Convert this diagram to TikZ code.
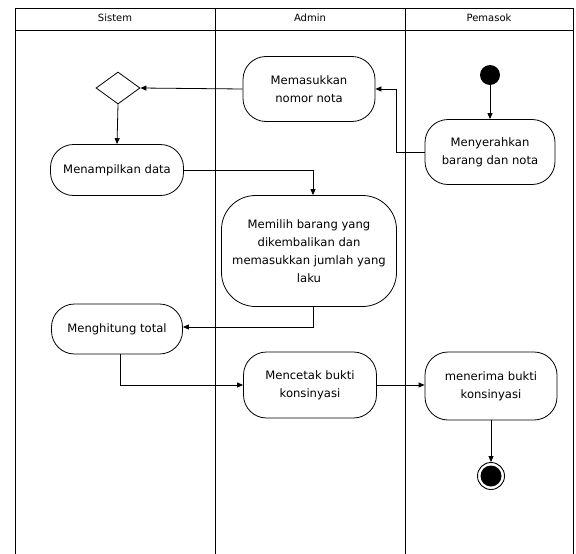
\documentclass[tikz,border=0pt]{standalone}
\usepackage{fontspec}
\setmainfont{DejaVu Sans}
\usetikzlibrary{shapes.geometric,arrows.meta}
\begin{document}
\begin{tikzpicture}[x=1pt,y=-1pt,
  lane/.style={draw=black,line width=0.9pt},
  act/.style={draw=black,line width=0.8pt,rounded corners=23pt,align=center,
    font=\fontsize{11.6}{18}\selectfont,inner sep=0pt},
  flow/.style={draw=black,line width=0.8pt,-{Triangle[length=6pt,width=5pt]}},
  lanehead/.style={font=\fontsize{10}{11}\selectfont}]
\useasboundingbox (0,0) rectangle (576,554);
% swimlanes
\draw[lane] (15,554) -- (15,8) -- (573,8) -- (573,554);
\draw[lane] (15,30) -- (573,30);
\draw[lane] (215,8) -- (215,554);
\draw[lane] (405,8) -- (405,554);
\node[lanehead] (hs) at (115,18) {Sistem};
\node[lanehead] (ha) at (310,18) {Admin};
\node[lanehead] (hp) at (489,18) {Pemasok};
% activities
\node[circle,fill=black,minimum size=20pt,inner sep=0pt] (start) at (490,75) {};
\node[act,minimum width=130pt,minimum height=65pt] (serah) at (490,152) {Menyerahkan\\barang dan nota};
\node[act,minimum width=132pt,minimum height=65pt] (nota) at (309,89) {Memasukkan\\nomor nota};
\node[diamond,draw=black,line width=0.8pt,minimum width=44pt,minimum height=32pt,inner sep=0pt] (dec) at (118,88) {};
\node[act,minimum width=133pt,minimum height=51pt] (tampil) at (117,170) {Menampilkan data};
\node[act,rounded corners=34pt,minimum width=175pt,minimum height=111pt] (pilih) at (309,251) {Memilih barang yang\\dikembalikan dan\\memasukkan jumlah yang\\laku};
\node[act,minimum width=131pt,minimum height=50pt] (hitung) at (117,329) {Menghitung total};
\node[act,minimum width=133pt,minimum height=66pt] (cetak) at (310,385) {Mencetak bukti\\konsinyasi};
\node[act,minimum width=132pt,minimum height=68pt] (terima) at (491,386) {menerima bukti\\konsinyasi};
\node[circle,draw=black,line width=0.9pt,minimum size=27pt,inner sep=0pt] (end) at (491,476) {};
\node[circle,fill=black,minimum size=21pt,inner sep=0pt] (endin) at (end.center) {};
% flows
\draw[flow] (start) -- (serah);
\draw[flow] (serah.west) -- ++(-28,0) |- (nota.east);
\draw[flow] (nota.west) -- (dec.east);
\draw[flow] (dec.south) -- (tampil.north);
\draw[flow] (tampil.east) -| ([xshift=4pt]pilih.north);
\draw[flow] ([xshift=4pt]pilih.south) |- ([yshift=2pt]hitung.east);
\draw[flow] ([xshift=3pt]hitung.south) |- (cetak.west);
\draw[flow] (cetak.east) -- (cetak.east -| terima.west);
\draw[flow] (terima.south) -- (end.north);
\end{tikzpicture}
\end{document}
